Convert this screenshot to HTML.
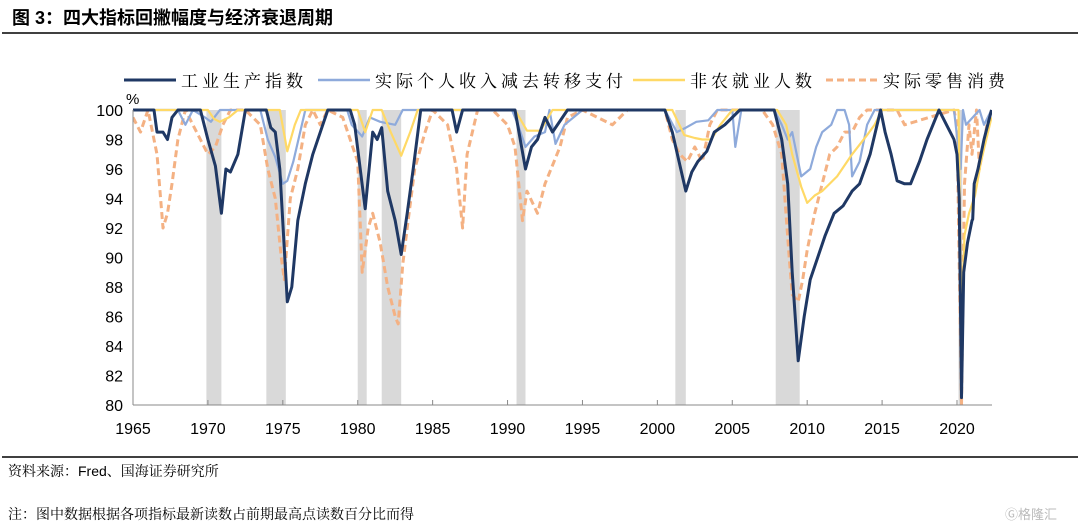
<!DOCTYPE html>
<html><head><meta charset="utf-8">
<style>
body{margin:0;background:#fff;width:1080px;height:526px;overflow:hidden;font-family:"Liberation Sans","Noto Sans CJK SC",sans-serif;}
</style></head>
<body>
<svg width="1080" height="526" xmlns="http://www.w3.org/2000/svg">
<text x="12" y="24" font-size="18" font-weight="bold" font-family="Liberation Sans, Noto Sans CJK SC, sans-serif">图 3：四大指标回撇幅度与经济衰退周期</text>
<line x1="2" y1="33" x2="1078" y2="33" stroke="#000" stroke-width="1.5"/>
<g id="plot"></g>
<line x1="2" y1="457" x2="1078" y2="457" stroke="#000" stroke-width="1.5"/>
<text x="8" y="476" font-size="14" font-family="Liberation Sans, Noto Serif CJK SC, serif">资料来源：Fred、国海证券研究所</text>
<text x="8" y="519" font-size="14" font-family="Liberation Sans, Noto Serif CJK SC, serif">注：图中数据根据各项指标最新读数占前期最高点读数百分比而得</text>
<text x="1005" y="519" font-size="13" fill="#bbb" font-family="Liberation Sans, Noto Sans CJK SC, sans-serif">Ⓖ格隆汇</text>
</svg>
<script>
const xTicks=[1965,1970,1975,1980,1985,1990,1995,2000,2005,2010,2015,2020];
const yTicks=[80,82,84,86,88,90,92,94,96,98,100];
const recStart=[1969.9,1973.9,1980.0,1981.6,1990.6,2001.2,2007.9,2020.1];
const recEnd=[1970.9,1975.2,1980.6,1982.9,1991.2,2001.9,2009.5,2020.35];
const ipT=[1965,1966.4,1966.6,1967.0,1967.3,1967.6,1968,1969.5,1970.0,1970.5,1970.9,1971.2,1971.5,1972,1972.5,1973.9,1974.2,1974.5,1974.8,1975.3,1975.6,1976,1976.5,1977,1978,1979.5,1979.8,1980.5,1981.0,1981.3,1981.6,1982.0,1982.5,1982.9,1983.3,1983.7,1984.2,1986.3,1986.6,1987,1989,1990.5,1991.2,1991.6,1992,1992.5,1993,1994,2000.5,2001.0,2001.9,2002.3,2002.7,2003.3,2003.8,2004.5,2005.5,2006,2007.8,2008.3,2008.7,2009.0,2009.4,2009.8,2010.2,2010.7,2011.2,2011.8,2012.4,2013,2013.5,2014.2,2014.9,2015.2,2015.6,2016,2016.5,2016.9,2017.5,2018,2018.8,2019.3,2019.8,2020.0,2020.15,2020.3,2020.45,2020.7,2021.0,2021.05,2021.15,2021.4,2021.8,2022.3];
const ipV=[100,100,98.5,98.5,98,99.5,100,100,98,96.2,93,96,95.8,97,100,100,98.8,98.5,96,87,88,92.5,95,97,100,100,99,93.3,98.5,98,98.8,94.5,92.5,90.2,93,96,100,100,98.5,100,100,100,96,97.5,98,99.5,98.5,100,100,98.5,94.5,95.8,96.5,97.2,98.5,99,100,100,100,98,95,89,83,86,88.5,90,91.5,93,93.5,94.5,95,97,100,98.5,97,95.2,95,95,96.5,98,100,99,98,97,94,80.5,89,91,92.5,92.6,95,96,98,100];
const inT=[1965,1968,1968.5,1969,1969.8,1970.2,1970.8,1971.3,1973.5,1974.0,1974.5,1975.0,1975.3,1975.7,1976.5,1979.3,1979.6,1980.3,1980.8,1981.5,1982.5,1983,1990.3,1990.7,1991.2,1991.8,1992.5,1992.8,1993.2,1993.8,1995,2000.5,2001.3,2001.9,2002.6,2003.4,2004,2005.0,2005.2,2005.6,2007.8,2008.3,2008.7,2009.0,2009.6,2010.2,2010.6,2011.0,2011.6,2012,2012.5,2012.8,2013.0,2013.5,2014,2014.5,2019.8,2020.25,2020.4,2020.6,2021.5,2021.8,2022.3];
const inV=[100,100,99,100,99.5,99.2,100,100,100,98,96.8,95,95.2,96.5,100,100,99,98.2,99.5,99.2,99,100,100,99,97.5,98.2,98.5,100,97.7,99,100,100,98.5,98.8,99.2,99.3,100,100,97.5,100,100,99,98,98.5,95.5,96,97.5,98.5,99,100,100,99,95.5,96.5,99,100,100,96,100,99,100,99,100];
const nfT=[1965,1970.0,1970.4,1970.8,1971.4,1972,1974.8,1975.3,1975.8,1976.2,1980.0,1980.5,1981,1981.6,1982.2,1982.9,1983.5,1984,1990.5,1991.3,1992.2,1993,2001.0,2001.8,2002.5,2003.0,2003.6,2004.2,2005,2008.0,2008.6,2009.0,2009.6,2010.0,2010.5,2011,2012,2013,2014,2014.5,2015,2020.1,2020.3,2020.5,2020.8,2021.2,2021.6,2022.3];
const nfV=[100,100,99.4,99.2,99.5,100,100,97.2,99,100,100,98.5,100,100,98.5,96.9,98.5,100,100,98.6,98.6,100,100,98.3,98.1,98,98,99,100,100,99,97,94.8,93.7,94.2,94.5,95.5,97,98.3,99,100,100,85.5,91.5,93,94.2,96.5,99.5];
const rtT=[1965,1965.5,1966,1966.6,1967.0,1967.3,1967.6,1968,1968.5,1969,1969.5,1970,1970.5,1971,1971.5,1972.5,1973.5,1974,1974.5,1974.9,1975.1,1975.5,1976,1976.5,1977,1977.5,1978,1979,1979.5,1980,1980.3,1980.7,1981.0,1981.5,1982,1982.5,1982.7,1983,1983.3,1983.8,1984.5,1985,1986,1986.6,1987.0,1987.3,1988,1989,1990,1990.5,1991.0,1991.3,1992,1992.5,1993.5,1994,1995,1997,1998,2000.5,2001,2001.5,2002,2002.5,2003,2003.5,2004,2007,2007.7,2008.3,2008.8,2009.0,2009.4,2009.7,2010,2010.5,2011,2011.5,2012,2012.5,2013,2013.5,2014,2016,2016.5,2019.8,2020.0,2020.3,2020.5,2020.8,2021,2021.3,2021.5,2022,2022.3];
const rtV=[99.5,98.5,100,97,92,93,95,98,100,99,98,97,97.5,99,100,100,99,96,94,90,88.5,94,96,99,100,99,100,99.5,98,96.5,89,92,93,91,88,86,85.5,89.5,92,96,98.5,100,99,96,92,97,100,100,99,97.5,92.5,94.5,93,95,97.5,99.5,100,99,100,100,98,97,96.5,97.5,96.5,99,100,100,99,97,90,87.5,87,88.5,90.5,93,95,97,97.5,98.5,98.5,99.5,100,100,99,100,99,80,95,99,97,100,96,99,100];

const NS='http://www.w3.org/2000/svg';
const X0=133,X1=957,Y0=110,Y1=405;
const xs=y=>X0+(y-1965)*(X1-X0)/55;
const ys=v=>Y1-(v-80)*(Y1-Y0)/20;
const g=document.getElementById('plot');
function mk(tag,attrs,parent){const e=document.createElementNS(NS,tag);for(const k in attrs)e.setAttribute(k,attrs[k]);(parent||g).appendChild(e);return e;}
const clip=mk('clipPath',{id:'cp'});mk('rect',{x:X0,y:Y0-2,width:992-X0,height:Y1-Y0+6},clip);
recStart.forEach((s,i)=>{
  const r=mk('rect',{x:xs(s),y:ys(100),width:xs(recEnd[i])-xs(s),height:ys(80)-ys(100),fill:'#d9d9d9'});
  
  
});
function line(T,V,color,w,dash,name){
  const d=T.map((t,i)=>(i?'L':'M')+xs(t).toFixed(1)+','+ys(V[i]).toFixed(1)).join('');
  const p=mk('path',{d:d,fill:'none',stroke:color,'stroke-width':w,'stroke-linejoin':'round','clip-path':'url(#cp)'});
  if(dash)p.setAttribute('stroke-dasharray',dash);
  
  
}
line(rtT,rtV,'#f4b183',3,'7,4','retail-sales-line');
line(inT,inV,'#8eaadb',2.2,null,'real-income-line');
line(nfT,nfV,'#ffd966',2.2,null,'nonfarm-payroll-line');
line(ipT,ipV,'#1f3864',3,null,'industrial-production-line');
mk('line',{x1:X0,y1:Y0,x2:X0,y2:Y1,stroke:'#888','stroke-width':1});
mk('line',{x1:X0,y1:Y1,x2:992,y2:Y1,stroke:'#888','stroke-width':1});
yTicks.forEach(v=>{
  const t=mk('text',{x:X0-10,y:ys(v)+6,'font-size':16,'text-anchor':'end','font-family':'Liberation Sans, sans-serif'});
  t.textContent=v;
  
  
});
xTicks.forEach(y=>{
  mk('line',{x1:xs(y),y1:Y1,x2:xs(y),y2:Y1-5,stroke:'#888'});
  const t=mk('text',{x:xs(y),y:Y1+29,'font-size':16,'text-anchor':'middle','font-family':'Liberation Sans, sans-serif'});
  t.textContent=y;
  
  
});
const u=mk('text',{x:126,y:104,'font-size':15,'font-family':'Liberation Sans, sans-serif'});u.textContent='%';


const leg=[[124,'#1f3864',3,null,'工业生产指数'],[318,'#8eaadb',2.5,null,'实际个人收入减去转移支付'],[633,'#ffd966',2.5,null,'非农就业人数'],[826,'#f4b183',3,'7,4','实际零售消费']];
leg.forEach(l=>{
  const gg=mk('g',{});
  
  
  const ln=mk('line',{x1:l[0],y1:80,x2:l[0]+52,y2:80,stroke:l[1],'stroke-width':l[2]},gg);
  if(l[3])ln.setAttribute('stroke-dasharray',l[3]);
  const t=mk('text',{x:l[0]+57,y:87,'font-size':17,'letter-spacing':'4','font-family':'Liberation Serif, Noto Serif CJK SC, serif'},gg);
  t.textContent=l[4];
});
</script>
</body></html>
